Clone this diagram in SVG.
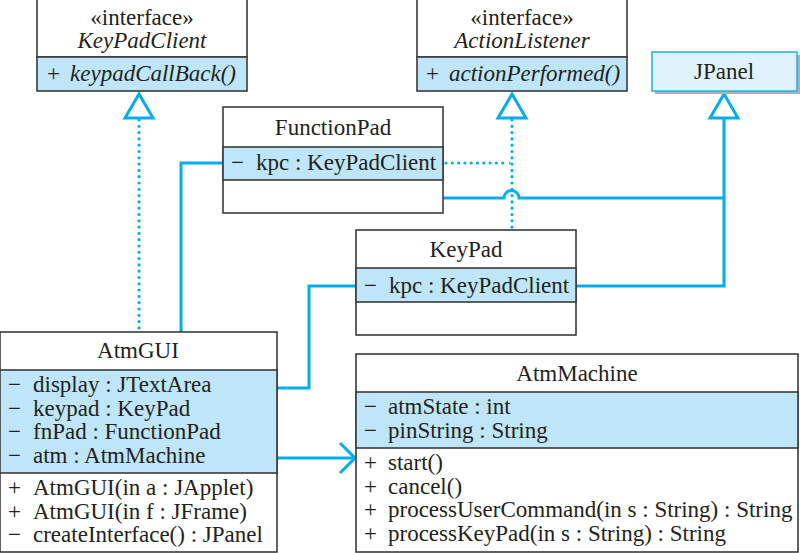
<svg xmlns="http://www.w3.org/2000/svg" width="800" height="553" viewBox="0 0 800 553">
<style>
.box{fill:#fff;stroke:#3a3a3a;stroke-width:1.6}
.attr{fill:#bee6f8;stroke:#3a3a3a;stroke-width:1.6}
.t{font-family:'Liberation Serif','Times New Roman',serif;font-size:23px;fill:#231f20}
.c{text-anchor:middle}
.i{font-style:italic}
.ln{fill:none;stroke:#00aeef;stroke-width:3}
.dot{fill:none;stroke:#00aeef;stroke-width:3.2;stroke-dasharray:0 6.3;stroke-linecap:round}
.tri{fill:#fff;stroke:#00aeef;stroke-width:3;stroke-linejoin:miter}
</style>
<rect width="800" height="553" fill="#fff"/>

<g id="connectors">
  <line class="dot" x1="139" y1="120" x2="139" y2="330"/>
  <polygon class="tri" points="139,94 125,118 153,118"/>
  <line class="dot" x1="512" y1="120" x2="512" y2="228"/>
  <line class="dot" x1="446" y1="163" x2="509" y2="163"/>
  <polygon class="tri" points="512,94 498,118 526,118"/>
  <path class="ln" d="M724,118 V286 H576"/>
  <path class="ln" d="M443,198 H504 A7.5,7.5 0 0 1 519,198 H724"/>
  <polygon class="tri" points="724,94 710,118 738,118"/>
  <path class="ln" d="M181,332 V163 H223"/>
  <path class="ln" d="M277,388 H309 V286 H356"/>
  <path class="ln" d="M277,458 H353"/>
  <path class="ln" d="M340,443 L355,458 L340,473"/>
</g>

<g id="KeyPadClient">
  <rect class="box" x="37" y="-1" width="210" height="58"/>
  <rect class="attr" x="37" y="57" width="210" height="34"/>
  <text class="t c" x="142" y="25">«interface»</text>
  <text class="t c i" x="142" y="48">KeyPadClient</text>
  <text class="t" x="47" y="81">+</text>
  <text class="t i" x="70" y="81">keypadCallBack()</text>
</g>

<g id="ActionListener">
  <rect class="box" x="417" y="-1" width="210" height="58"/>
  <rect class="attr" x="417" y="57" width="210" height="34"/>
  <text class="t c" x="522" y="25">«interface»</text>
  <text class="t c i" x="522" y="48">ActionListener</text>
  <text class="t" x="426" y="81">+</text>
  <text class="t i" x="449" y="81">actionPerformed()</text>
</g>

<g id="JPanel">
  <rect x="655" y="55" width="145" height="39" fill="#b0b0b0"/>
  <rect x="652" y="52" width="145" height="39" fill="#e0f3fc" stroke="#2ab5ea" stroke-width="1.6"/>
  <text class="t c" x="724" y="79">JPanel</text>
</g>

<g id="FunctionPad">
  <rect class="box" x="223" y="107" width="220" height="106"/>
  <rect class="attr" x="223" y="147" width="220" height="33"/>
  <text class="t c" x="333" y="135">FunctionPad</text>
  <text class="t" x="231" y="170">−</text>
  <text class="t" x="256" y="170">kpc : KeyPadClient</text>
</g>

<g id="KeyPad">
  <rect class="box" x="356" y="230" width="220" height="105"/>
  <rect class="attr" x="356" y="268" width="220" height="34"/>
  <text class="t c" x="466" y="257">KeyPad</text>
  <text class="t" x="364" y="293">−</text>
  <text class="t" x="389" y="293">kpc : KeyPadClient</text>
</g>

<g id="AtmGUI">
  <rect class="box" x="0" y="332" width="277" height="220"/>
  <rect class="attr" x="0" y="370" width="277" height="103"/>
  <text class="t c" x="138" y="358">AtmGUI</text>
  <text class="t" x="8" y="392">−</text>
  <text class="t" x="33" y="392">display : JTextArea</text>
  <text class="t" x="8" y="416">−</text>
  <text class="t" x="33" y="416">keypad : KeyPad</text>
  <text class="t" x="8" y="439">−</text>
  <text class="t" x="33" y="439">fnPad : FunctionPad</text>
  <text class="t" x="8" y="463">−</text>
  <text class="t" x="33" y="463">atm : AtmMachine</text>
  <text class="t" x="8" y="495">+</text>
  <text class="t" x="33" y="495">AtmGUI(in a : JApplet)</text>
  <text class="t" x="8" y="519">+</text>
  <text class="t" x="33" y="519">AtmGUI(in f : JFrame)</text>
  <text class="t" x="8" y="542">−</text>
  <text class="t" x="33" y="542">createInterface() : JPanel</text>
</g>

<g id="AtmMachine">
  <rect class="box" x="356" y="354" width="442" height="198"/>
  <rect class="attr" x="356" y="392" width="442" height="56"/>
  <text class="t c" x="577" y="381">AtmMachine</text>
  <text class="t" x="364" y="414">−</text>
  <text class="t" x="388" y="414">atmState : int</text>
  <text class="t" x="364" y="438">−</text>
  <text class="t" x="388" y="438">pinString : String</text>
  <text class="t" x="364" y="470">+</text>
  <text class="t" x="388" y="470">start()</text>
  <text class="t" x="364" y="494">+</text>
  <text class="t" x="388" y="494">cancel()</text>
  <text class="t" x="364" y="517">+</text>
  <text class="t" x="388" y="517">processUserCommand(in s : String) : String</text>
  <text class="t" x="364" y="541">+</text>
  <text class="t" x="388" y="541">processKeyPad(in s : String) : String</text>
</g>
</svg>
